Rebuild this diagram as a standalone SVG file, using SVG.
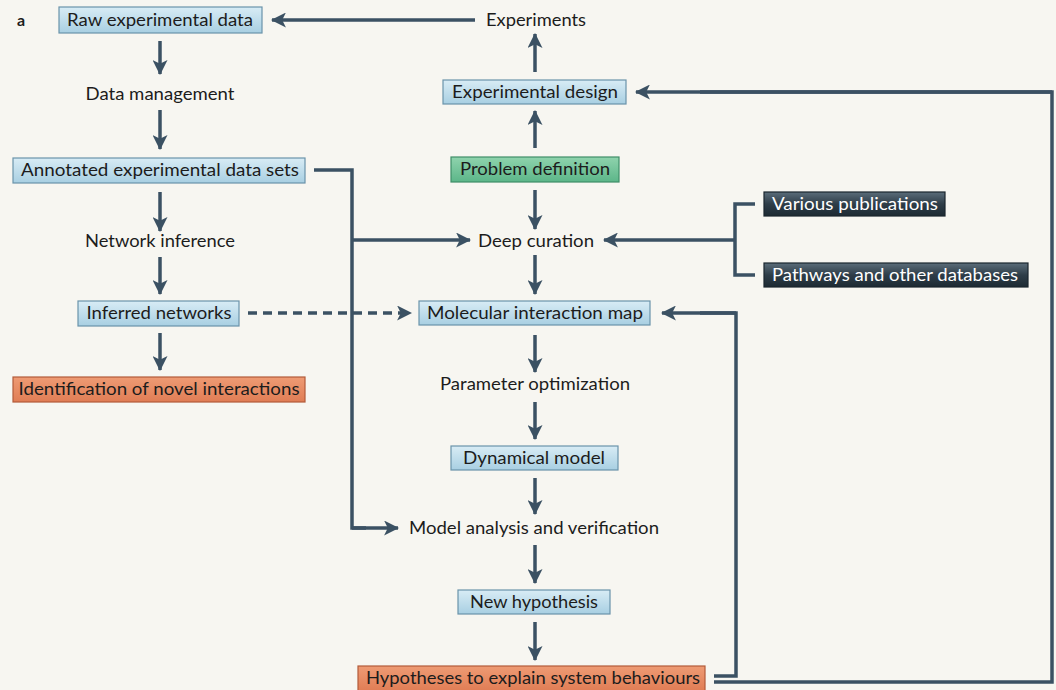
<svg xmlns="http://www.w3.org/2000/svg" width="1056" height="690" viewBox="0 0 1056 690">
  <defs>
    <linearGradient id="gBlue" x1="0" y1="0" x2="0" y2="1">
      <stop offset="0" stop-color="#d8ecf5"/>
      <stop offset="1" stop-color="#a8cfe2"/>
    </linearGradient>
    <linearGradient id="gGreen" x1="0" y1="0" x2="0" y2="1">
      <stop offset="0" stop-color="#8fd3ad"/>
      <stop offset="1" stop-color="#5cb689"/>
    </linearGradient>
    <linearGradient id="gOrange" x1="0" y1="0" x2="0" y2="1">
      <stop offset="0" stop-color="#ee9b74"/>
      <stop offset="1" stop-color="#e07d55"/>
    </linearGradient>
    <linearGradient id="gDark" x1="0" y1="0" x2="0" y2="1">
      <stop offset="0" stop-color="#5b6d7a"/>
      <stop offset="0.5" stop-color="#2e3d48"/>
      <stop offset="1" stop-color="#1d2a33"/>
    </linearGradient>
    <marker id="ah" viewBox="0 0 12 12" refX="11" refY="6" markerWidth="12" markerHeight="12" markerUnits="userSpaceOnUse" orient="auto">
      <path d="M0,0 L12,6 L0,12 L3,6 Z" fill="#3b5163"/>
    </marker>
    <marker id="ahBig" viewBox="0 0 14 14" refX="13" refY="7" markerWidth="15" markerHeight="15" markerUnits="userSpaceOnUse" orient="auto">
      <path d="M0,0 L14,7 L0,14 L3.5,7 Z" fill="#3b5163"/>
    </marker>
  </defs>
  <style>
    text { font-family: "Lato", "Liberation Sans", sans-serif; font-size: 17px; fill: #1c1c1c; text-anchor: middle; }
    .lbl { font-weight: bold; text-anchor: start; font-size: 16px; }
    .light { fill: #ffffff; }
    .blue { fill: url(#gBlue); stroke: #6a93aa; stroke-width: 1.2; }
    .green { fill: url(#gGreen); stroke: #3f8e68; stroke-width: 1.2; }
    .orange { fill: url(#gOrange); stroke: #b25b3a; stroke-width: 1.2; }
    .dark { fill: url(#gDark); stroke: #1a252d; stroke-width: 1.2; }
    .c { fill: none; stroke: #3b5163; stroke-width: 3.5; }
    .arr { marker-end: url(#ahBig); }
    .dash { stroke-dasharray: 9 6; }
  </style>

  <rect width="1056" height="690" fill="#f7f6f1"/>

  <text class="lbl" x="17" y="26">a</text>

  <!-- connectors -->
  <g id="connectors">
    <!-- top row -->
    <line class="c arr" x1="475" y1="20" x2="272" y2="20"/>
    <line class="c arr" x1="535" y1="72" x2="535" y2="34"/>
    <line class="c arr" x1="535" y1="148" x2="535" y2="111"/>
    <!-- left column -->
    <line class="c arr" x1="160" y1="41" x2="160" y2="74"/>
    <line class="c arr" x1="160" y1="110" x2="160" y2="149"/>
    <line class="c arr" x1="160" y1="192" x2="160" y2="231"/>
    <line class="c arr" x1="160" y1="257" x2="160" y2="294"/>
    <line class="c arr" x1="160" y1="333" x2="160" y2="370"/>
    <!-- annotated data sets feed curation and model analysis -->
    <polyline class="c" points="314,170 352,170 352,528 366,528"/>
    <line class="c arr" x1="352" y1="528" x2="398" y2="528"/>
    <line class="c arr" x1="352" y1="240" x2="470" y2="240"/>
    <!-- inferred networks to interaction map -->
    <line class="c dash arr" x1="248" y1="313" x2="411" y2="313"/>
    <!-- center column -->
    <line class="c arr" x1="535" y1="190" x2="535" y2="229"/>
    <line class="c arr" x1="535" y1="255" x2="535" y2="294"/>
    <line class="c arr" x1="535" y1="335" x2="535" y2="372"/>
    <line class="c arr" x1="535" y1="402" x2="535" y2="439"/>
    <line class="c arr" x1="535" y1="478" x2="535" y2="514"/>
    <line class="c arr" x1="535" y1="545" x2="535" y2="583"/>
    <line class="c arr" x1="535" y1="622" x2="535" y2="660"/>
    <!-- publications / databases bracket to curation -->
    <polyline class="c" points="755,204 735,204 735,275 755,275"/>
    <line class="c arr" x1="735" y1="240" x2="604" y2="240"/>
    <!-- feedback loops -->
    <polyline class="c" points="714,676 736,676 736,313 700,313"/>
    <line class="c arr" x1="736" y1="313" x2="662" y2="313"/>
    <polyline class="c" points="714,682 1052,682 1052,92 700,92"/>
    <line class="c arr" x1="1052" y1="92" x2="636" y2="92"/>
  </g>

  <!-- nodes -->
  <g id="raw-data">
    <rect class="blue" x="59" y="7" width="203" height="26"/>
    <text x="160" y="26" textLength="186" lengthAdjust="spacingAndGlyphs">Raw experimental data</text>
  </g>
  <g id="experiments">
    <text x="536" y="26" textLength="100" lengthAdjust="spacingAndGlyphs">Experiments</text>
  </g>
  <g id="data-management">
    <text x="160" y="100" textLength="149" lengthAdjust="spacingAndGlyphs">Data management</text>
  </g>
  <g id="annotated-data">
    <rect class="blue" x="13" y="158" width="292" height="25"/>
    <text x="160" y="176" textLength="278" lengthAdjust="spacingAndGlyphs">Annotated experimental data sets</text>
  </g>
  <g id="network-inference">
    <text x="160" y="247" textLength="150" lengthAdjust="spacingAndGlyphs">Network inference</text>
  </g>
  <g id="inferred-networks">
    <rect class="blue" x="78" y="301" width="161" height="25"/>
    <text x="159" y="319" textLength="145" lengthAdjust="spacingAndGlyphs">Inferred networks</text>
  </g>
  <g id="novel-interactions">
    <rect class="orange" x="13" y="377" width="292" height="25"/>
    <text x="159" y="395" textLength="281" lengthAdjust="spacingAndGlyphs">Identification of novel interactions</text>
  </g>
  <g id="experimental-design">
    <rect class="blue" x="443" y="80" width="183" height="24"/>
    <text x="535" y="98" textLength="166" lengthAdjust="spacingAndGlyphs">Experimental design</text>
  </g>
  <g id="problem-definition">
    <rect class="green" x="451" y="157" width="168" height="25"/>
    <text x="535" y="175" textLength="150" lengthAdjust="spacingAndGlyphs">Problem definition</text>
  </g>
  <g id="deep-curation">
    <text x="536" y="247" textLength="116" lengthAdjust="spacingAndGlyphs">Deep curation</text>
  </g>
  <g id="publications">
    <rect class="dark" x="764" y="192" width="181" height="24"/>
    <text class="light" x="855" y="210" textLength="166" lengthAdjust="spacingAndGlyphs">Various publications</text>
  </g>
  <g id="databases">
    <rect class="dark" x="764" y="263" width="264" height="24"/>
    <text class="light" x="895" y="281" textLength="246" lengthAdjust="spacingAndGlyphs">Pathways and other databases</text>
  </g>
  <g id="interaction-map">
    <rect class="blue" x="419" y="301" width="231" height="24"/>
    <text x="535" y="319" textLength="216" lengthAdjust="spacingAndGlyphs">Molecular interaction map</text>
  </g>
  <g id="parameter-optimization">
    <text x="535" y="390" textLength="190" lengthAdjust="spacingAndGlyphs">Parameter optimization</text>
  </g>
  <g id="dynamical-model">
    <rect class="blue" x="451" y="446" width="167" height="24"/>
    <text x="534" y="464" textLength="142" lengthAdjust="spacingAndGlyphs">Dynamical model</text>
  </g>
  <g id="model-analysis">
    <text x="534" y="534" textLength="250" lengthAdjust="spacingAndGlyphs">Model analysis and verification</text>
  </g>
  <g id="new-hypothesis">
    <rect class="blue" x="458" y="590" width="152" height="24"/>
    <text x="534" y="608" textLength="128" lengthAdjust="spacingAndGlyphs">New hypothesis</text>
  </g>
  <g id="system-hypotheses">
    <rect class="orange" x="358" y="666" width="347" height="25"/>
    <text x="533" y="684" textLength="334" lengthAdjust="spacingAndGlyphs">Hypotheses to explain system behaviours</text>
  </g>
</svg>
